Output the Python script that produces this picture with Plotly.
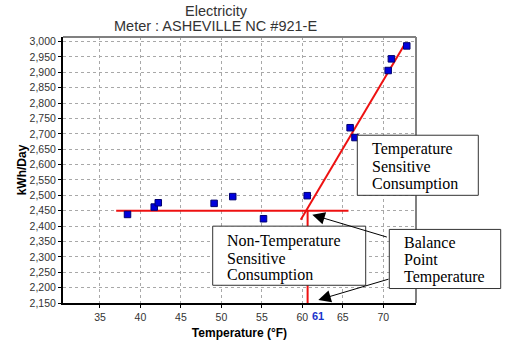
import plotly.graph_objects as go

# ---- data ----
temps = [38.4, 41.7, 42.2, 49.1, 51.4, 55.2, 60.6, 65.9, 66.5, 70.6, 71.0, 72.9]
kwh = [2438, 2462, 2476, 2474, 2496, 2424, 2499, 2720, 2688, 2906, 2944, 2986]

flat_x = [37.0, 65.7]
flat_y = [2450, 2450]
slope_x = [59.8, 72.7]
slope_y = [2421, 2994]
balance_x = [60.65, 60.65]
balance_y = [2450, 2150]
balance_label = "61"

x_ticks = [35, 40, 45, 50, 55, 60, 65, 70]
title_lines = ["Electricity", "Meter : ASHEVILLE NC #921-E"]
box_texts = {
    "ts": ["Temperature", "Sensitive", "Consumption"],
    "nts": ["Non-Temperature", "Sensitive", "Consumption"],
    "bp": ["Balance", "Point", "Temperature"],
}

W, H = 516, 350
L, R, T, B = 63, 100, 37, 43
PW, PH = W - L - R, H - T - B


def px(xp):
    return (xp - L) / PW


def py(yp):
    return (H - B - yp) / PH


RED = "#ee1111"
fig = go.Figure()
for xs, ys in [(flat_x, flat_y), (slope_x, slope_y), (balance_x, balance_y)]:
    fig.add_trace(go.Scatter(x=xs, y=ys, mode="lines",
                             line=dict(color=RED, width=2), showlegend=False,
                             hoverinfo="skip"))
fig.add_trace(go.Scatter(x=temps, y=kwh, mode="markers",
                         marker=dict(symbol="square", size=6.5, color="#0000dd",
                                     line=dict(color="#000070", width=1)),
                         showlegend=False))

shapes = []
# top / right gray frame
shapes.append(dict(type="line", xref="paper", yref="paper", x0=0, x1=1, y0=1, y1=1,
                   line=dict(color="#808080", width=2), layer="above"))
shapes.append(dict(type="line", xref="paper", yref="paper", x0=1, x1=1, y0=0, y1=1,
                   line=dict(color="#808080", width=2), layer="above"))

boxes = {
    "ts": (357.3, 478.3, 136.7, 197.7, 370.7, [151, 168.5, 186]),
    "nts": (212.7, 365.7, 229, 289, 226, [244, 261.5, 279]),
    "bp": (389.3, 500.7, 232.3, 292.3, 402.7, [246, 263.3, 280.7]),
}
annotations = []
for key, (x0, x1, y0, y1, tx, tys) in boxes.items():
    shapes.append(dict(type="rect", xref="paper", yref="paper",
                       x0=px(x0), x1=px(x1), y0=py(y1), y1=py(y0),
                       fillcolor="white", line=dict(color="#333333", width=1),
                       layer="above"))
    for line_txt, ty in zip(box_texts[key], tys):
        annotations.append(dict(xref="paper", yref="paper", x=px(tx), y=py(ty),
                                xanchor="left", yanchor="middle", showarrow=False,
                                text=line_txt, borderpad=0,
                                font=dict(family="Liberation Serif", size=16, color="#000")))

# arrows
for head, tail in [((61.23, 2437), (70.62, 2363)), ((61.97, 2160), (70.83, 2229))]:
    annotations.append(dict(x=head[0], y=head[1], ax=tail[0], ay=tail[1],
                            xref="x", yref="y", axref="x", ayref="y", text="",
                            showarrow=True, arrowhead=2, arrowsize=2.5, arrowwidth=1,
                            arrowcolor="#000"))

# title lines
for txt, cx, cy in [(title_lines[0], 216, 11), (title_lines[1], 215, 26)]:
    annotations.append(dict(xref="paper", yref="paper", x=px(cx), y=py(cy),
                            xanchor="center", yanchor="middle", showarrow=False,
                            text=txt,
                            font=dict(family="Liberation Sans", size=14.5, color="#333")))

# balance label
annotations.append(dict(xref="paper", yref="paper", x=px(317.5), y=py(320),
                        xanchor="center", yanchor="middle", showarrow=False,
                        text="<b>%s</b>" % balance_label,
                        font=dict(family="Liberation Sans", size=11, color="#1a33cc")))

grid = dict(showgrid=True, gridcolor="#a8a8a8", gridwidth=1, griddash="3px,3px")
fig.update_layout(
    width=W, height=H, margin=dict(l=L, r=R, t=T, b=B),
    paper_bgcolor="white", plot_bgcolor="white",
    shapes=shapes, annotations=annotations,
    font=dict(family="Liberation Sans", color="#333"),
    xaxis=dict(range=[30.43, 74.04], tickvals=x_ticks, **grid,
               showline=True, linecolor="#000", linewidth=2,
               ticks="outside", ticklen=3, tickcolor="#000",
               tickfont=dict(size=10.5, color="#333"), zeroline=False,
               title=dict(text="<b>Temperature (°F)</b>", standoff=7,
                          font=dict(size=12, color="#000"))),
    yaxis=dict(range=[2150, 3015], tick0=2150, dtick=50, tickformat=",d", **grid,
               showline=True, linecolor="#000", linewidth=2,
               ticks="outside", ticklen=3, tickcolor="#000",
               tickfont=dict(size=10.5, color="#333"), zeroline=False,
               title=dict(text="<b>kWh/Day</b>", standoff=0,
                          font=dict(size=12, color="#000"))),
)

fig.write_html("out.html")
